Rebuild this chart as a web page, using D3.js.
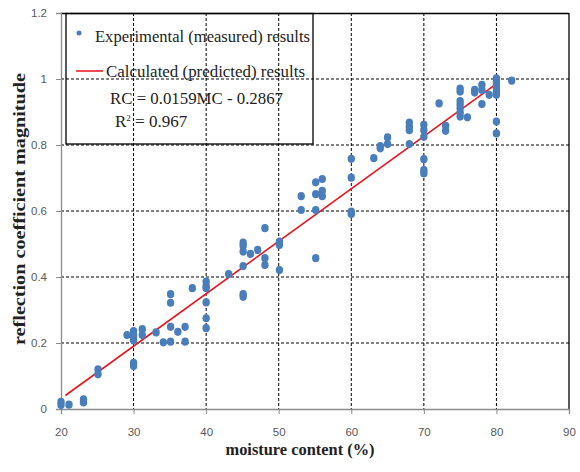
<!DOCTYPE html>
<html>
<head>
<meta charset="utf-8">
<script src="https://cdn.jsdelivr.net/npm/d3@7"></script>
<style>
  html, body { margin: 0; padding: 0; background: #fff; }
  svg { display: block; }
</style>
</head>
<body>
<div id="chart"></div>
<script>
// ---- data ----
const mcValues = [
  20.0, 20.0, 21.1, 23.1, 23.1, 25.1, 25.1, 29.1,
  30, 30, 30, 30, 30, 30, 31.2, 31.2, 33.1, 34.1,
  35.1, 35.1, 35.1, 35.1, 36.1, 37.1, 37.1, 38.1,
  40, 40, 40, 40, 40, 40, 43.1,
  45.1, 45.1, 45.1, 45.1, 45.1, 45.1, 46.1, 47.1,
  48.1, 48.1, 48.1, 50.1, 50.1, 50.1, 53.1, 53.1,
  55.1, 55.1, 55.1, 55.1, 56, 56, 56,
  60, 60, 60, 60, 63.1, 64, 64, 65, 65,
  68, 68, 68, 68, 70, 70, 70, 70, 70, 70,
  72.1, 73, 73,
  75, 75, 75, 75, 75, 75, 75, 76, 77, 77, 78, 78, 78, 79,
  80, 80, 80, 80, 80, 80, 80, 80, 82.1
];
const rcValues = [
  0.022, 0.012, 0.013, 0.029, 0.020, 0.120, 0.105, 0.224,
  0.236, 0.226, 0.216, 0.208, 0.140, 0.130, 0.242, 0.224, 0.232, 0.202,
  0.348, 0.322, 0.249, 0.204, 0.234, 0.249, 0.204, 0.366,
  0.386, 0.373, 0.366, 0.323, 0.275, 0.245, 0.409,
  0.504, 0.494, 0.477, 0.433, 0.348, 0.340, 0.470, 0.482,
  0.548, 0.457, 0.436, 0.507, 0.497, 0.421, 0.645, 0.603,
  0.687, 0.651, 0.603, 0.457, 0.697, 0.661, 0.645,
  0.758, 0.701, 0.598, 0.591, 0.760, 0.797, 0.790, 0.823, 0.803,
  0.868, 0.856, 0.845, 0.803, 0.861, 0.845, 0.825, 0.757, 0.724, 0.714,
  0.926, 0.858, 0.843,
  0.971, 0.962, 0.933, 0.923, 0.911, 0.898, 0.886, 0.884, 0.967, 0.959, 0.982, 0.967, 0.924, 0.952,
  1.002, 0.992, 0.982, 0.971, 0.962, 0.952, 0.871, 0.835, 0.995
];
const fitSlope = 0.0159;
const fitIntercept = -0.2867;
const fitRange = [20.6, 80];
const xTicks = [20, 30, 40, 50, 60, 70, 80, 90];
const yTicks = [0, 0.2, 0.4, 0.6, 0.8, 1.0, 1.2];
const xTitle = "moisture content (%)";
const yTitle = "reflection coefficient magnitude";
const legendLabels = ["Experimental (measured) results", "Calculated (predicted) results"];
const equationText = "RC = 0.0159MC - 0.2867";
const r2Text = ["R", "2", " = 0.967"];

// ---- layout ----
const W = 580, H = 472;
const pLeft = 61, pRight = 569, pTop = 13, pBottom = 409;

const svg = d3.select("#chart").append("svg")
  .attr("width", W).attr("height", H);

const x = d3.scaleLinear().domain([20, 90]).range([pLeft, pRight]);
const y = d3.scaleLinear().domain([0, 1.2]).range([pBottom, pTop]);

// gridlines
const grid = svg.append("g");
grid.selectAll("line.v").data(xTicks.filter(t => t > 20 && t < 90)).enter().append("line")
  .attr("class", "v")
  .attr("x1", d => x(d)).attr("x2", d => x(d))
  .attr("y1", pTop).attr("y2", pBottom)
  .attr("stroke", "#000").attr("stroke-width", 1).attr("stroke-dasharray", "3,2");
grid.selectAll("line.h").data(yTicks.filter(t => t > 0 && t < 1.2)).enter().append("line")
  .attr("class", "h")
  .attr("y1", d => y(d)).attr("y2", d => y(d))
  .attr("x1", pLeft).attr("x2", pRight)
  .attr("stroke", "#000").attr("stroke-width", 1).attr("stroke-dasharray", "3,2");

// plot border top and right
svg.append("line").attr("x1", pLeft).attr("x2", pRight).attr("y1", pTop + 0.5).attr("y2", pTop + 0.5)
  .attr("stroke", "#000").attr("stroke-width", 1.3);
svg.append("line").attr("x1", pRight).attr("x2", pRight).attr("y1", pTop).attr("y2", pBottom)
  .attr("stroke", "#000").attr("stroke-width", 1.3);

// axes
const xAxis = d3.axisBottom(x).tickValues(xTicks).tickSize(5).tickPadding(14).tickFormat(d3.format("d"));
const yAxis = d3.axisLeft(y).tickValues(yTicks).tickSize(5).tickPadding(9)
  .tickFormat(d => d === 0 ? "0" : (d === 1 ? "1" : d3.format(".1f")(d)));

const gx = svg.append("g").attr("transform", `translate(0,${pBottom})`).call(xAxis);
const gy = svg.append("g").attr("transform", `translate(${pLeft},0)`).call(yAxis);
[gx, gy].forEach(g => {
  g.select(".domain").attr("stroke", "#8c8c8c").attr("stroke-width", 1.3);
  g.selectAll(".tick line").attr("stroke", "#8c8c8c");
  g.selectAll(".tick text").attr("fill", "#595959").attr("font-family", "Liberation Sans, Arial, sans-serif").attr("font-size", 11.5);
});

// fitted line
svg.append("line")
  .attr("x1", x(fitRange[0])).attr("y1", y(fitSlope * fitRange[0] + fitIntercept))
  .attr("x2", x(fitRange[1])).attr("y2", y(fitSlope * fitRange[1] + fitIntercept))
  .attr("stroke", "#e8141c").attr("stroke-width", 1.6);

// points
const pts = mcValues.map((m, i) => ({ mc: m, rc: rcValues[i] }));
svg.append("g").selectAll("ellipse").data(pts).enter().append("ellipse")
  .attr("cx", d => x(d.mc)).attr("cy", d => y(d.rc))
  .attr("rx", 3.7).attr("ry", 4.1)
  .attr("fill", "#4a7ebb");

// axis titles
svg.append("text")
  .attr("x", 300).attr("y", 455)
  .attr("text-anchor", "middle")
  .attr("font-family", "Liberation Serif, Times New Roman, serif")
  .attr("font-weight", "bold").attr("font-size", 16)
  .attr("fill", "#222")
  .attr("textLength", 149).attr("lengthAdjust", "spacingAndGlyphs")
  .text(xTitle);

svg.append("text")
  .attr("transform", "translate(25,209) rotate(-90)")
  .attr("text-anchor", "middle")
  .attr("font-family", "Liberation Serif, Times New Roman, serif")
  .attr("font-weight", "bold").attr("font-size", 16)
  .attr("fill", "#222")
  .attr("textLength", 272).attr("lengthAdjust", "spacingAndGlyphs")
  .text(yTitle);

// legend
const lg = svg.append("g");
lg.append("rect").attr("x", 66).attr("y", 13.5).attr("width", 247).attr("height", 130.5)
  .attr("fill", "none").attr("stroke", "#000").attr("stroke-width", 1.3);
lg.append("circle").attr("cx", 79).attr("cy", 33).attr("r", 2.5).attr("fill", "#4a7ebb");
lg.append("line").attr("x1", 76).attr("x2", 103).attr("y1", 71).attr("y2", 71)
  .attr("stroke", "#e8141c").attr("stroke-width", 1.5);

const serif = "Liberation Serif, Times New Roman, serif";
lg.append("text").attr("x", 95).attr("y", 42)
  .attr("font-family", serif).attr("font-size", 17).attr("fill", "#222")
  .attr("textLength", 215).attr("lengthAdjust", "spacingAndGlyphs")
  .text(legendLabels[0]);
lg.append("text").attr("x", 106).attr("y", 77)
  .attr("font-family", serif).attr("font-size", 17).attr("fill", "#222")
  .attr("textLength", 199).attr("lengthAdjust", "spacingAndGlyphs")
  .text(legendLabels[1]);
lg.append("text").attr("x", 110).attr("y", 104)
  .attr("font-family", serif).attr("font-size", 17).attr("fill", "#222")
  .attr("textLength", 173).attr("lengthAdjust", "spacingAndGlyphs")
  .text(equationText);
const r2 = lg.append("text").attr("x", 115).attr("y", 127)
  .attr("font-family", serif).attr("font-size", 17).attr("fill", "#222");
r2.append("tspan").text(r2Text[0]);
r2.append("tspan").attr("dy", -6).attr("font-size", 9).text(r2Text[1]);
r2.append("tspan").attr("dy", 6).text(r2Text[2]);
</script>
</body>
</html>
